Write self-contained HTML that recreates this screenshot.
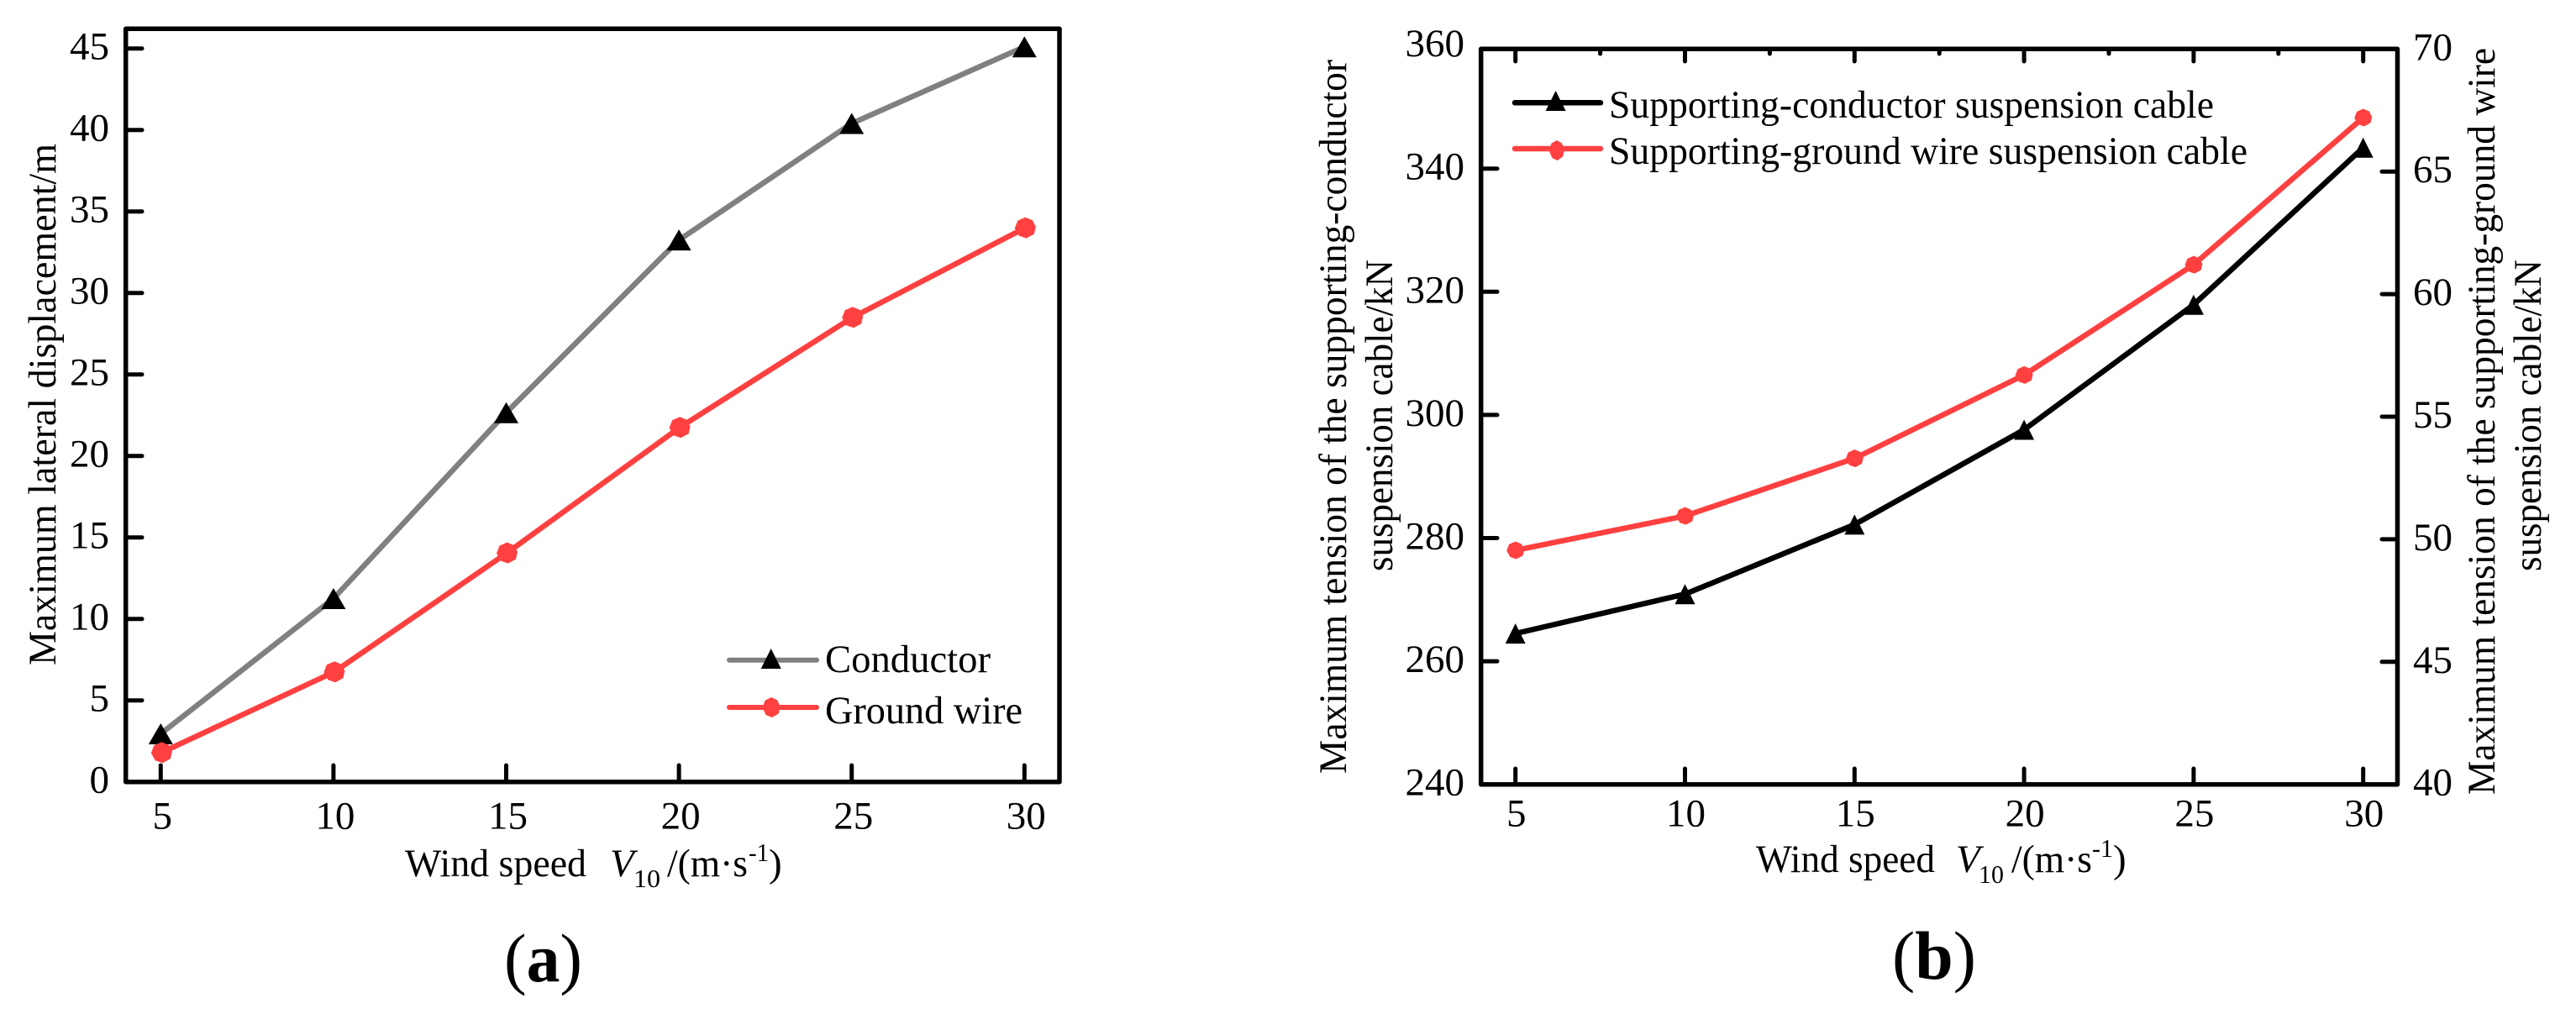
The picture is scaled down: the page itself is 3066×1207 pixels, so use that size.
<!DOCTYPE html>
<html lang="en">
<head>
<meta charset="utf-8">
<title>Wind speed charts</title>
<style>
html,body{margin:0;padding:0;background:#fff;}
svg{display:block;}
text{font-family:"Liberation Serif","Times New Roman",serif;font-size:47px;fill:#000;}
.sub{font-size:31px;}
.cap{font-size:82px;}
.cap-b{font-weight:bold;}
</style>
</head>
<body>
<svg id="chart" xmlns="http://www.w3.org/2000/svg" width="3066" height="1207" viewBox="0 0 3066 1207">
  <rect width="3066" height="1207" fill="#fff"/>

  <g id="panel-a"></g>
  <g id="panel-b"></g>

  <!-- panel a static text -->
  <text transform="translate(66,792) rotate(-90)" textLength="621" lengthAdjust="spacingAndGlyphs">Maximum lateral displacement/m</text>
  <g>
    <text x="482" y="1043" textLength="216" lengthAdjust="spacingAndGlyphs">Wind speed</text>
    <text x="726" y="1043" font-style="italic">V</text>
    <text class="sub" x="754" y="1056" textLength="32" lengthAdjust="spacingAndGlyphs">10</text>
    <text x="794" y="1043" textLength="96" lengthAdjust="spacingAndGlyphs">/(m·s</text>
    <text class="sub" x="891" y="1025" textLength="24" lengthAdjust="spacingAndGlyphs">-1</text>
    <text x="915" y="1043">)</text>
  </g>
  <text x="982" y="800" textLength="197" lengthAdjust="spacingAndGlyphs">Conductor</text>
  <text x="982" y="861" textLength="235" lengthAdjust="spacingAndGlyphs">Ground wire</text>
  <text class="cap" x="600" y="1168" textLength="93" lengthAdjust="spacingAndGlyphs">(<tspan class="cap-b">a</tspan>)</text>

  <!-- panel b static text -->
  <text transform="translate(1602,921) rotate(-90)" textLength="850" lengthAdjust="spacingAndGlyphs">Maximum tension of the supporting-conductor</text>
  <text transform="translate(1657,680) rotate(-90)" textLength="371" lengthAdjust="spacingAndGlyphs">suspension cable/kN</text>
  <text transform="translate(2969,946) rotate(-90)" textLength="889" lengthAdjust="spacingAndGlyphs">Maximum tension of the supporting-ground wire</text>
  <text transform="translate(3024,680) rotate(-90)" textLength="371" lengthAdjust="spacingAndGlyphs">suspension cable/kN</text>
  <g>
    <text x="2090" y="1038" textLength="213" lengthAdjust="spacingAndGlyphs">Wind speed</text>
    <text x="2328" y="1038" font-style="italic">V</text>
    <text class="sub" x="2355" y="1051" textLength="30" lengthAdjust="spacingAndGlyphs">10</text>
    <text x="2394" y="1038" textLength="96" lengthAdjust="spacingAndGlyphs">/(m·s</text>
    <text class="sub" x="2490" y="1020" textLength="25" lengthAdjust="spacingAndGlyphs">-1</text>
    <text x="2515" y="1038">)</text>
  </g>
  <text x="1915" y="140" textLength="720" lengthAdjust="spacingAndGlyphs">Supporting-conductor suspension cable</text>
  <text x="1915" y="195" textLength="760" lengthAdjust="spacingAndGlyphs">Supporting-ground wire suspension cable</text>
  <text class="cap" x="2252" y="1165" textLength="100" lengthAdjust="spacingAndGlyphs">(<tspan class="cap-b">b</tspan>)</text>
</svg>

<script>
// ---- data ----
const windSpeeds = [5, 10, 15, 20, 25, 30];
const conductorDisplacement = [2.95, 11.25, 22.65, 33.25, 40.4, 45.1];
const groundWireDisplacement = [1.8, 6.75, 14.05, 21.75, 28.5, 34.0];
const displacementTicks = [0, 5, 10, 15, 20, 25, 30, 35, 40, 45];
const conductorCableTension = [264.5, 270.9, 282.2, 297.6, 317.9, 343.4];
const groundCableTension = [49.55, 50.95, 53.3, 56.7, 61.2, 67.2];
const leftTensionTicks = [240, 260, 280, 300, 320, 340, 360];
const rightTensionTicks = [40, 45, 50, 55, 60, 65, 70];
const minorWindTicks = [7.5, 12.5, 17.5, 22.5, 27.5];

// ---- axis functions ----
const xA = v => 191.3 + (v - 5) * 41.12;
const yA = v => 930.7 - v * 19.4;
const xB = v => 1803.7 + (v - 5) * 40.36;
const yBLeft = v => 933.7 - (v - 240) * 7.33;
const yBRight = v => 933.7 - (v - 40) * 29.18;

const NS = 'http://www.w3.org/2000/svg';
function make(parent, tag, attrs, text) {
  const el = document.createElementNS(NS, tag);
  for (const k in attrs) el.setAttribute(k, attrs[k]);
  if (text !== undefined) el.textContent = text;
  parent.appendChild(el);
  return el;
}
function triPts(x, y, w, h) {
  return (x) + ',' + (y - h / 2) + ' ' + (x + w / 2) + ',' + (y + h / 2) + ' ' + (x - w / 2) + ',' + (y + h / 2);
}
function hexPts(x, y, w, h) {
  return [[0, -.5], [.34, -.36], [.5, -.05], [.42, .3], [.05, .5], [-.3, .38], [-.5, .02], [-.36, -.34]]
    .map(p => (x + p[0] * w) + ',' + (y + p[1] * h)).join(' ');
}
function drawLine(parent, xs, ys, color, width, name) {
  const pts = xs.map((x, i) => x + ',' + ys[i]).join(' ');
  const el = make(parent, 'polyline', { points: pts, fill: 'none', stroke: color, 'stroke-width': width, 'stroke-linejoin': 'round', 'stroke-linecap': 'round' });
  
  
}
function drawTick(parent, x1, y1, x2, y2, w) {
  const el = make(parent, 'line', { x1: x1, y1: y1, x2: x2, y2: y2, stroke: '#000', 'stroke-width': w, 'stroke-linecap': 'round' });
  
  
}
function drawLabel(parent, x, y, anchor, str) {
  const el = make(parent, 'text', { x: x, y: y, 'text-anchor': anchor }, str);
  
  
}
function drawFrame(parent, l, t, r, b, w) {
  const el = make(parent, 'rect', { x: l, y: t, width: r - l, height: b - t, fill: 'none', stroke: '#000', 'stroke-width': w, 'stroke-linejoin': 'round' });
  
  
}
function drawTriangle(parent, x, y, w, h, name) {
  const el = make(parent, 'polygon', { points: triPts(x, y, w, h), fill: '#000' });
  
  
}
function drawHex(parent, x, y, w, h, name) {
  const el = make(parent, 'polygon', { points: hexPts(x, y, w, h), fill: '#ff4040' });
  
  
}

// ---- panel a ----
const pa = document.getElementById('panel-a');
displacementTicks.forEach(v => {
  if (v > 0) drawTick(pa, 150, yA(v), 169, yA(v), 5);
  drawLabel(pa, 130, yA(v) + 13, 'end', String(v));
});
windSpeeds.forEach(v => {
  drawTick(pa, xA(v), 930, xA(v), 911, 5);
  drawLabel(pa, xA(v) + 2, 986.5, 'middle', String(v));
});
drawFrame(pa, 149.7, 34.3, 1261, 930.7, 5.5);
const xsA = windSpeeds.map(xA);
drawLine(pa, xsA, conductorDisplacement.map(yA), '#808080', 6.5, 'series-conductor');
drawLine(pa, xsA.map(x => x + 1), groundWireDisplacement.map(yA), '#ff4040', 6.5, 'series-ground-wire');
conductorDisplacement.forEach((v, i) => drawTriangle(pa, xsA[i], yA(v), 29, 25, 'point-conductor'));
groundWireDisplacement.forEach((v, i) => drawHex(pa, xsA[i] + 1, yA(v), 25, 25, 'point-ground-wire'));
// legend a
drawLine(pa, [868, 972], [785.7, 785.7], '#808080', 6, 'legend-line-conductor');
drawTriangle(pa, 917.7, 784, 24, 24, 'legend-marker-conductor');
drawLine(pa, [868, 972], [842, 842], '#ff4040', 6, 'legend-line-ground-wire');
drawHex(pa, 918, 842, 21, 24, 'legend-marker-ground-wire');

// ---- panel b ----
const pb = document.getElementById('panel-b');
leftTensionTicks.forEach(v => {
  if (v > 240 && v < 360) drawTick(pb, 1763, yBLeft(v), 1782, yBLeft(v), 5);
  drawLabel(pb, 1743, yBLeft(v) + 13, 'end', String(v));
});
rightTensionTicks.forEach(v => {
  if (v > 40 && v < 70) drawTick(pb, 2853, yBRight(v), 2835, yBRight(v), 5);
  drawLabel(pb, 2872, yBRight(v) + 13, 'start', String(v));
});
windSpeeds.forEach(v => {
  drawTick(pb, xB(v), 933, xB(v), 915, 5);
  drawTick(pb, xB(v), 59, xB(v), 73, 5);
  drawLabel(pb, xB(v) + 1, 983.5, 'middle', String(v));
});
minorWindTicks.forEach(v => drawTick(pb, xB(v), 59, xB(v), 64, 5));
drawFrame(pb, 1762.7, 58.3, 2853.5, 933.7, 5.5);
const xsB = windSpeeds.map(xB);
drawLine(pb, xsB, conductorCableTension.map(yBLeft), '#000', 6.5, 'series-supporting-conductor');
drawLine(pb, xsB, groundCableTension.map(yBRight), '#ff4040', 6.5, 'series-supporting-ground-wire');
conductorCableTension.forEach((v, i) => drawTriangle(pb, xsB[i], yBLeft(v), 24, 24, 'point-supporting-conductor'));
groundCableTension.forEach((v, i) => drawHex(pb, xsB[i], yBRight(v), 21, 21, 'point-supporting-ground-wire'));
// legend b
drawLine(pb, [1803, 1905], [122.3, 122.3], '#000', 6.5, 'legend-line-supporting-conductor');
drawTriangle(pb, 1851.6, 120, 24, 24, 'legend-marker-supporting-conductor');
drawLine(pb, [1803, 1905], [177, 177], '#ff4040', 6.5, 'legend-line-supporting-ground-wire');
drawHex(pb, 1852.8, 179, 18, 24, 'legend-marker-supporting-ground-wire');
</script>
</body>
</html>
